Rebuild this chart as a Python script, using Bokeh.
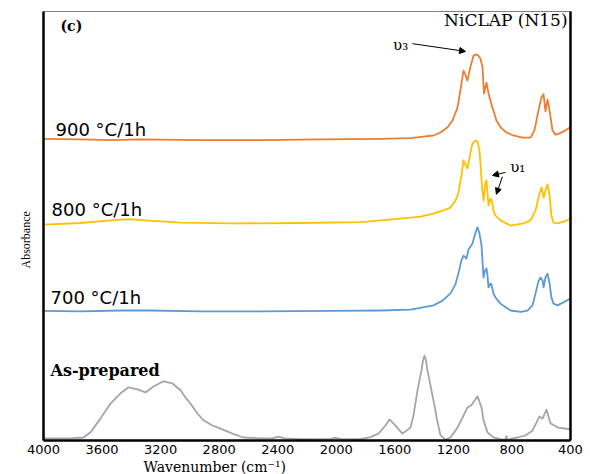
from bokeh.plotting import figure
from bokeh.models import Range1d, FixedTicker, LinearAxis, Label, Arrow, NormalHead, Title
from bokeh.embed import file_html
from bokeh.resources import INLINE

# ---- data (wavenumber cm-1, absorbance in arbitrary offset units) ----
tick_values = [4000, 3600, 3200, 2800, 2400, 2000, 1600, 1200, 800, 400]
tick_labels = ["4000", "3600", "3200", "2800", "2400", "2000", "1600", "1200", "800", "400"]

wn_asprep = [4000, 3816, 3727, 3679, 3611, 3542, 3474, 3419, 3358, 3303, 3249, 3180, 3119, 3064,
             3030, 2996, 2948, 2907, 2846, 2777, 2709, 2634, 2518, 2436, 2395, 2354, 2244, 2040,
             2005, 1970, 1835, 1766, 1712, 1664, 1636, 1602, 1548, 1493, 1473, 1445, 1432, 1418,
             1408, 1397, 1387, 1377, 1363, 1343, 1329, 1315, 1288, 1254, 1220, 1172, 1131, 1104,
             1077, 1035, 1008, 994, 967, 926, 865, 844, 837, 830, 817, 762, 707, 660, 625, 612,
             591, 564, 537, 510, 482, 441, 400]
abs_asprep = [0.5, 0.5, 0.7, 1.9, 5.1, 8.6, 11.0, 12.4, 11.9, 11.2, 12.6, 13.8, 13.3, 11.7,
              10.0, 8.6, 6.3, 4.7, 3.5, 2.6, 1.6, 0.7, 0.5, 0.5, 0.9, 0.5, 0.3, 0.4,
              0.6, 0.4, 0.3, 0.8, 1.6, 3.5, 4.9, 3.7, 1.6, 3.0, 5.8, 11.7, 14.0, 16.3,
              18.6, 19.8, 18.6, 16.3, 14.0, 10.5, 8.2, 5.4, 1.2, 0.2, 0.7, 3.0, 5.8, 7.7,
              8.2, 10.3, 7.7, 4.7, 1.9, 0.7, 0.2, 0.3, 1.0, 0.0, 0.3, 0.7, 1.2, 2.3, 4.7, 5.6,
              5.1, 7.2, 4.0, 3.5, 3.0, 2.8, 2.6]

wn_700 = [4000, 3747, 3474, 3269, 2928, 2518, 2039, 1698, 1493, 1336, 1274, 1220, 1186, 1166,
          1145, 1131, 1118, 1111, 1097, 1083, 1070, 1056, 1042, 1035, 1022, 1008, 994, 984,
          974, 967, 960, 947, 940, 926, 912, 878, 810, 740, 694, 660, 639, 619, 605, 591, 584,
          571, 557, 543, 530, 516, 489, 448, 400]
abs_700 = [30.2, 30.1, 30.3, 30.3, 30.1, 30.1, 30.2, 30.3, 30.5, 31.5, 32.6, 34.3, 36.4, 38.9,
           42.0, 43.1, 42.7, 42.4, 44.5, 45.2, 45.9, 47.6, 49.2, 49.7, 48.3, 45.5, 38.0, 39.6,
           40.1, 38.5, 35.7, 36.6, 36.4, 34.3, 33.3, 31.9, 30.3, 30.0, 30.3, 31.5, 34.3, 37.1, 38.0,
           37.3, 35.7, 38.0, 38.9, 36.6, 33.3, 31.9, 31.5, 32.2, 33.1]

wn_800 = [4000, 3747, 3542, 3426, 3303, 3064, 2723, 2244, 1835, 1561, 1425, 1336, 1274, 1220,
          1186, 1166, 1145, 1131, 1118, 1104, 1083, 1070, 1049, 1035, 1022, 1015, 1005, 994,
          981, 974, 967, 960, 947, 940, 926, 912, 878, 810, 721, 673, 639, 619, 598, 584,
          571, 557, 543, 530, 516, 489, 448, 400]
abs_800 = [50.3, 50.7, 51.3, 51.6, 51.3, 50.8, 50.6, 50.7, 50.9, 51.7, 52.2, 52.9, 53.6, 54.3,
           55.9, 57.6, 61.8, 65.3, 64.3, 63.4, 67.1, 69.2, 69.9, 69.7, 67.6, 64.6, 59.4, 55.9,
           60.1, 60.6, 57.8, 54.8, 56.4, 56.2, 53.6, 52.4, 51.3, 50.1, 50.6, 51.3, 53.6, 56.6,
           59.0, 56.6, 58.3, 59.7, 57.1, 52.4, 50.8, 50.6, 51.0, 51.7]

wn_900 = [4000, 3747, 3542, 3337, 2928, 2518, 2108, 1698, 1493, 1391, 1336, 1288, 1240, 1206,
          1172, 1152, 1131, 1118, 1104, 1083, 1063, 1042, 1029, 1015, 1001, 991, 974, 960,
          947, 933, 926, 906, 878, 837, 790, 728, 673, 646, 619, 598, 584, 571, 557, 543,
          523, 503, 475, 434, 400]
abs_900 = [70.3, 70.2, 70.0, 70.2, 70.0, 70.0, 70.2, 70.3, 70.5, 70.9, 71.1, 71.8, 73.0, 74.6,
           77.6, 81.6, 86.2, 85.3, 83.9, 87.2, 89.7, 90.0, 89.7, 89.0, 87.0, 80.9, 83.4, 80.9,
           79.3, 77.5, 76.9, 74.6, 73.0, 71.8, 71.1, 70.6, 70.6, 72.3, 76.9, 80.0, 80.7, 76.7,
           79.5, 76.9, 72.3, 71.3, 71.6, 72.3, 73.0]

series_names = ["As-prepared", "700 °C/1h", "800 °C/1h", "900 °C/1h"]
series_colors = ["#A5A5A5", "#5B9BD5", "#FFC000", "#ED7D31"]

# ---- figure ----
p = figure(width=590, height=474, output_backend="svg", toolbar_location=None,
           x_range=Range1d(4000, 400), y_range=Range1d(0, 100),
           min_border_left=43, min_border_right=20, min_border_top=11, min_border_bottom=34)
p.xgrid.visible = False
p.ygrid.visible = False
p.outline_line_color = "#808080"
p.outline_line_width = 1

p.xaxis.ticker = FixedTicker(ticks=tick_values)
p.xaxis.major_label_overrides = {v: l for v, l in zip(tick_values, tick_labels)}
p.xaxis.axis_line_width = 2.5
p.xaxis.axis_line_color = "black"
p.xaxis.major_tick_line_color = None
p.xaxis.minor_tick_line_color = None
p.xaxis.major_tick_out = 0
p.xaxis.major_tick_in = 0
p.xaxis.minor_tick_out = 0
p.xaxis.major_label_text_font = "DejaVu Sans"
p.xaxis.major_label_text_font_size = "13px"
p.xaxis.major_label_text_color = "black"
p.xaxis.major_label_standoff = 4

p.yaxis.ticker = FixedTicker(ticks=[])
p.yaxis.axis_line_width = 2.5
p.yaxis.axis_line_color = "black"
p.yaxis.major_tick_line_color = None
p.yaxis.minor_tick_line_color = None
p.yaxis.major_tick_out = 0
p.yaxis.major_tick_in = 0
p.yaxis.minor_tick_out = 0

right_axis = LinearAxis(ticker=FixedTicker(ticks=[]), axis_line_width=2.5, axis_line_color="black",
                        major_tick_line_color=None, minor_tick_line_color=None,
                        major_tick_out=0, major_tick_in=0, minor_tick_out=0)
p.add_layout(right_axis, "right")

p.add_layout(Title(text="Wavenumber (cm⁻¹)", align="left", offset=100, standoff=0,
                   text_font="DejaVu Serif", text_font_size="14px", text_font_style="normal",
                   text_color="black"), "below")
p.add_layout(Title(text="Absorbance", align="left", offset=172, standoff=21,
                   text_font="Liberation Serif", text_font_size="12px", text_font_style="normal",
                   text_color="black"), "left")

for wn, ab, c in [(wn_asprep, abs_asprep, series_colors[0]), (wn_700, abs_700, series_colors[1]),
                  (wn_800, abs_800, series_colors[2]), (wn_900, abs_900, series_colors[3])]:
    p.line(wn, ab, line_color=c, line_width=1.8, line_join="round")

sans = "DejaVu Sans"
serif = "DejaVu Serif"

def lab(x, y, t, font, size, style="normal", align="left", angle=0.0):
    p.add_layout(Label(x=x, y=y, text=t, text_font=font, text_font_size=size,
                       text_font_style=style, text_align=align, text_baseline="middle",
                       text_color="black", angle=angle))

lab(3918, 72.5, series_names[3], sans, "18px")
lab(3945, 53.8, series_names[2], sans, "18px")
lab(3952, 33.3, series_names[1], sans, "18px")
lab(3952, 16.3, series_names[0], serif, "16px", style="bold")
lab(3884, 96.7, "(c)", serif, "14px", style="bold")
lab(420, 98.1, "NiCLAP (N15)", serif, "17px", align="right")
lab(1560, 92.3, "υ₃", serif, "15px", align="center")
lab(760, 63.8, "υ₁", serif, "15px", align="center")

def arr(x0, y0, x1, y1):
    p.add_layout(Arrow(end=NormalHead(size=6, fill_color="black", line_color="black"),
                       x_start=x0, y_start=y0, x_end=x1, y_end=y1,
                       line_color="black", line_width=1))

arr(1479, 92.5, 1117, 90.7)
arr(844, 62.5, 933, 61.8)
arr(865, 61.5, 906, 57.4)

open("out.html", "w").write(file_html(p, INLINE))
